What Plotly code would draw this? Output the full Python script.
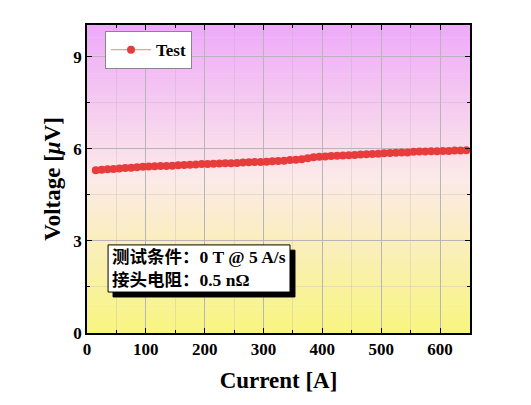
import plotly.graph_objects as go

# Current [A] and voltage [uV]
current = [15, 25, 35, 45, 55, 65, 75, 85, 95, 105, 115, 125, 135, 145, 155, 165,
           175, 185, 195, 205, 215, 225, 235, 245, 255, 265, 275, 285, 295, 305,
           315, 325, 335, 345, 355, 365, 375, 385, 395, 405, 415, 425, 435, 445,
           455, 465, 475, 485, 495, 505, 515, 525, 535, 545, 555, 565, 575, 585,
           595, 605, 615, 625, 635, 645]
voltage = [5.30, 5.32, 5.33, 5.34, 5.36, 5.37, 5.38, 5.40, 5.41, 5.42, 5.43, 5.44,
           5.44, 5.45, 5.46, 5.47, 5.48, 5.49, 5.50, 5.50, 5.51, 5.52, 5.53, 5.53,
           5.54, 5.55, 5.56, 5.57, 5.57, 5.58, 5.59, 5.60, 5.61, 5.63, 5.64, 5.66,
           5.69, 5.72, 5.74, 5.75, 5.76, 5.77, 5.78, 5.79, 5.80, 5.81, 5.82, 5.83,
           5.84, 5.85, 5.86, 5.87, 5.88, 5.88, 5.90, 5.91, 5.91, 5.92, 5.92, 5.93,
           5.93, 5.94, 5.94, 5.95]

x_ticks = [0, 100, 200, 300, 400, 500, 600]
y_ticks = [0, 3, 6, 9]

note = "测试条件：0 T @ 5 A/s<br>接头电阻：0.5 nΩ"

SERIF = "Liberation Serif, Times New Roman, serif"
NOTE_FONT = "Liberation Serif, Noto Sans CJK SC, serif"

fig = go.Figure()

fig.add_trace(go.Scatter(
    x=current, y=voltage,
    mode="lines+markers",
    name="Test",
    line=dict(color="#f08080", width=1),
    marker=dict(color="#e83c3c", size=8),
))

# gradient background: violet at top -> pale in middle -> yellow at bottom
top = (238, 170, 250)
mid = (252, 234, 232)
bot = (248, 246, 128)
n = 120
for i in range(n):
    t = (i + 0.5) / n  # 0 bottom, 1 top
    if t < 0.5:
        f = t / 0.5
        c = [bot[k] + (mid[k] - bot[k]) * f for k in range(3)]
    else:
        f = (t - 0.5) / 0.5
        c = [mid[k] + (top[k] - mid[k]) * f for k in range(3)]
    fig.add_shape(
        type="rect", xref="paper", yref="paper",
        x0=0, x1=1, y0=i / n, y1=(i + 1) / n + 0.002,
        fillcolor="rgb(%d,%d,%d)" % tuple(int(v) for v in c),
        line=dict(width=0), layer="below",
    )

# note box: black drop shadow, then white box, then the text
fig.add_shape(type="rect", xref="paper", yref="paper",
              x0=0.068, x1=0.543, y0=0.117, y1=0.269,
              fillcolor="black", line=dict(color="black", width=1), layer="above")
fig.add_shape(type="rect", xref="paper", yref="paper",
              x0=0.055, x1=0.530, y0=0.133, y1=0.286,
              fillcolor="white", line=dict(color="black", width=1), layer="above")
fig.add_annotation(
    x=0.060, y=0.2095, xref="paper", yref="paper",
    xanchor="left", yanchor="middle", align="left",
    text=note, showarrow=False,
    font=dict(family=NOTE_FONT, size=17.5, color="black", weight="bold"),
)

axis_common = dict(
    showline=True, linecolor="black", linewidth=1.5, mirror="ticks",
    ticks="inside", ticklen=5, tickcolor="black", tickwidth=1.2,
    showgrid=True, gridcolor="#b8b4b8", gridwidth=1, zeroline=False,
    tickfont=dict(family=SERIF, size=17, color="black", weight="bold"),
)

fig.update_xaxes(
    range=[0, 651], tickvals=x_ticks,
    title=dict(text="Current [A]", font=dict(family=SERIF, size=23, color="black", weight="bold"),
               standoff=14),
    minor=dict(dtick=50, tick0=0, ticks="inside", ticklen=3, tickcolor="black",
               showgrid=True, gridcolor="rgba(180,176,180,0.3)"),
    **axis_common,
)
fig.update_yaxes(
    range=[0, 10.03], tickvals=y_ticks,
    title=dict(text="Voltage [<i>μ</i>V]", font=dict(family=SERIF, size=23, color="black", weight="bold"),
               standoff=6),
    minor=dict(dtick=1.5, tick0=0, ticks="inside", ticklen=3, tickcolor="black",
               showgrid=True, gridcolor="rgba(180,176,180,0.3)"),
    **axis_common,
)

fig.update_layout(
    width=531, height=405,
    margin=dict(l=79, r=69, t=17, b=80),
    paper_bgcolor="white",
    plot_bgcolor="rgba(0,0,0,0)",
    showlegend=True,
    legend=dict(
        x=0.047, y=0.98, xanchor="left", yanchor="top",
        bgcolor="white", bordercolor="#888888", borderwidth=1,
        font=dict(family=SERIF, size=17, color="black", weight="bold"),
        itemwidth=40,
    ),
)

fig.write_html("out.html")
